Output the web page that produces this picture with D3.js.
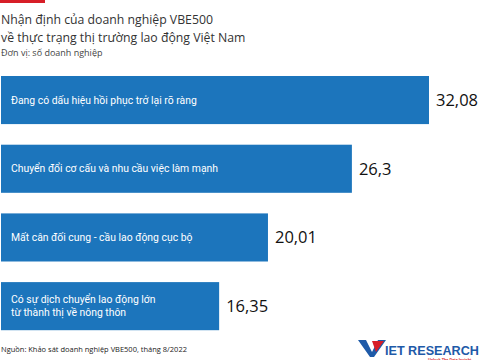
<!DOCTYPE html>
<html><head><meta charset="utf-8">
<script src="https://cdn.jsdelivr.net/npm/d3@7"></script>
<style>body{margin:0;background:#fff}svg{display:block}</style>
</head><body>
<svg id="c" width="480" height="360"></svg>
<script>
const categories = [
  ["Đang có dấu hiệu hồi phục trở lại rõ ràng"],
  ["Chuyển đổi cơ cấu và nhu cầu việc làm mạnh"],
  ["Mất cân đối cung - cầu lao động cục bộ"],
  ["Có sự dịch chuyển lao động lớn", "từ thành thị về nông thôn"]
];
const values = [32.08, 26.3, 20.01, 16.35];
const valueLabels = ["32,08", "26,3", "20,01", "16,35"];
const titleLines = ["Nhận định của doanh nghiệp VBE500", "về thực trạng thị trường lao động Việt Nam"];
const subtitle = "Đơn vị: số doanh nghiệp";
const source = "Nguồn: Khảo sát doanh nghiệp VBE500, tháng 8/2022";

const svg = d3.select("#c");
const idx = d3.range(values.length);
const x = d3.scaleLinear().domain([0, 32.08]).range([1, 429]);
const y = d3.scaleBand().domain(idx).range([65.7, 340.5]).paddingInner(0.3).paddingOuter(0.15);

// shrink a text's font size until it fits a target width
function fit(sel, maxW) {
  let fs = +sel.attr("font-size");
  let w = sel.node().getComputedTextLength();
  if (w > maxW) { fs = fs * maxW / w; sel.attr("font-size", fs.toFixed(2)); }
  return fs;
}

// top red accent
svg.append("rect").attr("x", 0).attr("y", 0).attr("width", 45).attr("height", 3).attr("fill", "#d71e28");

// title
const t1 = svg.append("text").attr("x", 1).attr("y", 24)
  .attr("font-family", "Open Sans, sans-serif").attr("font-size", 15.5).attr("fill", "#333")
  .text(titleLines[0]);
const tfs = fit(t1, 212);
svg.append("text").attr("x", 1).attr("y", 42)
  .attr("font-family", "Open Sans, sans-serif").attr("font-size", tfs.toFixed(2)).attr("fill", "#333")
  .text(titleLines[1]);
svg.append("text").attr("x", 1).attr("y", 56)
  .attr("font-family", "Open Sans, sans-serif").attr("font-size", 9).attr("fill", "#444")
  .text(subtitle);

// bars
svg.selectAll("rect.bar").data(idx).join("rect").attr("class", "bar")
  .attr("x", x(0)).attr("y", i => y(i))
  .attr("width", i => x(values[i]) - x(0)).attr("height", y.bandwidth())
  .attr("fill", "#1c75bc");

// bar labels
idx.forEach(i => {
  const lines = categories[i];
  const cy = y(i) + y.bandwidth() / 2;
  const lh = 13;
  lines.forEach((ln, j) => {
    svg.append("text").attr("x", 11)
      .attr("y", cy + (j - (lines.length - 1) / 2) * lh)
      .attr("dy", "0.35em")
      .attr("font-family", "Roboto, sans-serif").attr("font-size", 10.4).attr("fill", "#fff")
      .text(ln);
  });
});

// value labels
svg.selectAll("text.val").data(idx).join("text").attr("class", "val")
  .attr("x", i => x(values[i]) + 7).attr("y", i => y(i) + y.bandwidth() / 2)
  .attr("dy", "0.36em")
  .attr("font-family", "Open Sans, sans-serif").attr("font-size", 16.5).attr("fill", "#111")
  .text(i => valueLabels[i]);

// source
const src = svg.append("text").attr("x", 1).attr("y", 352)
  .attr("font-family", "Open Sans, sans-serif").attr("font-size", 9.5).attr("fill", "#222")
  .text(source);
fit(src, 186);

// logo
const g = svg.append("g").attr("transform", "translate(358,340)");
g.append("path").attr("d", "M0,0 L8,0 L14,12 L20,0 L28,0 L16,17 L12,17 Z").attr("fill", "#1e5aa8");
g.append("path").attr("d", "M14,1 L26,1 L18,12 Z").attr("fill", "#d71e28");
const lg = g.append("text").attr("x", 27).attr("y", 15).attr("font-family", "Liberation Sans, Arial, sans-serif")
  .attr("font-weight", "bold").attr("font-size", 15).attr("fill", "#1e5aa8").text("IET RESEARCH");
fit(lg, 94);
const tag = g.append("text").attr("x", 70).attr("y", 20.5).attr("font-family", "Liberation Sans, Arial, sans-serif")
  .attr("font-weight", "bold").attr("font-size", 3.8).attr("fill", "#d71e28").text("Unlock The Data Insight");
fit(tag, 49);
</script>
</body></html>
